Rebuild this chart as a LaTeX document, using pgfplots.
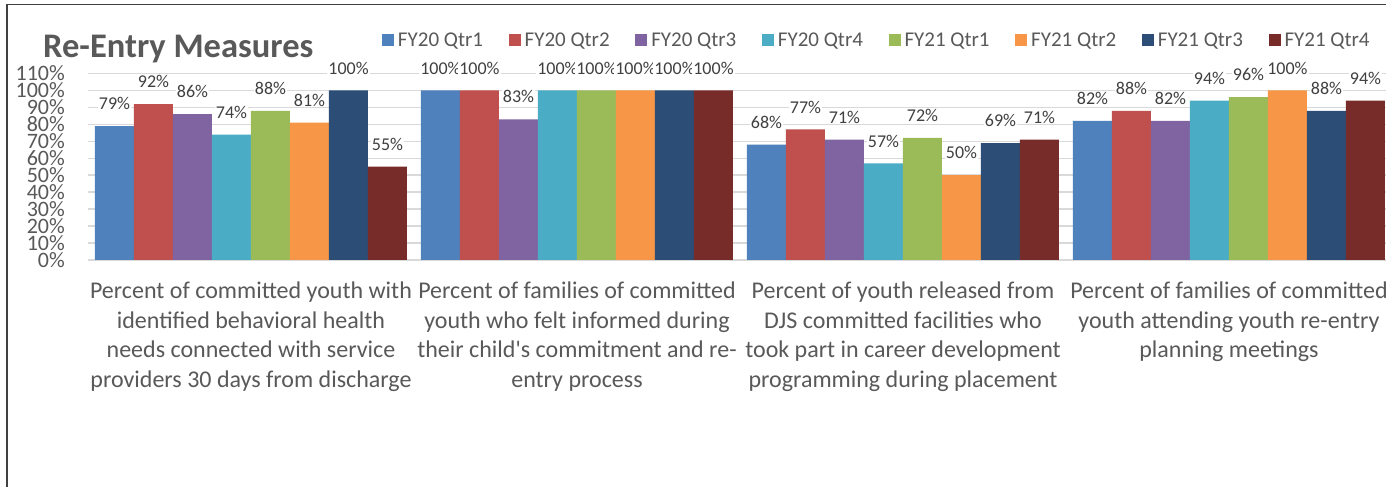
\documentclass[border=0pt]{standalone}
\usepackage{fontspec}
\setmainfont{Carlito}
\usepackage{pgfplots}
\pgfplotsset{compat=1.18}
\definecolor{c1}{HTML}{4F81BD}
\definecolor{c2}{HTML}{C0504D}
\definecolor{c3}{HTML}{8064A2}
\definecolor{c4}{HTML}{4BACC6}
\definecolor{c5}{HTML}{9BBB59}
\definecolor{c6}{HTML}{F79646}
\definecolor{c7}{HTML}{2C4D75}
\definecolor{c8}{HTML}{772C2A}
\definecolor{txtgray}{HTML}{595959}
\definecolor{lblgray}{HTML}{404040}
\definecolor{gridgray}{HTML}{D9D9D9}
\begin{document}
\begin{tikzpicture}
\useasboundingbox (0,0) rectangle (1386pt,487pt);
\clip (0,0) rectangle (1386pt,487pt);
\fill[white] (0,0) rectangle (1386pt,487pt);
\draw[line width=1.5pt, color=lblgray] (7pt,0) -- (7pt,482.3pt) -- (1390pt,482.3pt);
\node[anchor=base west, inner sep=0pt, text=txtgray, font=\fontsize{34.5}{40}\selectfont\bfseries] at (43pt,429.7pt) {Re-Entry Measures};
\begin{axis}[
  at={(88pt,227pt)}, anchor=south west,
  scale only axis, width=1304pt, height=186.5pt,
  xmin=-0.5, xmax=3.5, ymin=0, ymax=110,
  ybar=0pt, bar width=39pt,
  axis line style={draw=none},
  major tick length=0pt,
  ymajorgrids, grid style={gridgray, line width=1.5pt},
  ytick={0,10,...,110},
  /pgf/number format/assume math mode=true,
  yticklabel={\pgfmathprintnumber{\tick}\%},
  yticklabel style={anchor=east, inner sep=0pt, xshift=-23pt, text=txtgray, font=\fontsize{22}{22}\selectfont},
  xtick={0,1,2,3},
  xticklabels={
    {Percent of committed youth with\\identified behavioral health\\needs connected with service\\providers 30 days from discharge},
    {Percent of families of committed\\youth who felt informed during\\their child\textquotesingle s commitment and re-\\entry process},
    {Percent of youth released from\\DJS committed facilities who\\took part in career development\\programming during placement},
    {Percent of families of committed\\youth attending youth re-entry\\planning meetings}},
  xticklabel style={anchor=north, inner sep=0pt, yshift=-22pt, align=center, text=txtgray, font=\fontsize{24}{29.5}\selectfont},
  nodes near coords={\pgfmathprintnumber{\pgfplotspointmeta}\%},
  every node near coord/.append style={font=\fontsize{18}{18}\selectfont, text=lblgray, fill=white, inner sep=1pt, anchor=south, yshift=15pt},
  legend columns=8,
  legend image code/.code={\fill[#1] (0pt,-6pt) rectangle (12pt,6pt);},
  legend style={at={(0.22546,1.1796)}, anchor=west, draw=none, fill=none, inner sep=0pt, outer sep=0pt,
    font=\fontsize{21}{21}\selectfont, text=txtgray,
    nodes={inner sep=0pt},
    /tikz/every odd column/.append style={column sep=4pt},
    /tikz/every even column/.append style={column sep=25.6pt}},
]
\addplot[fill=c1, draw=none] coordinates {(0,79) (1,100) (2,68) (3,82)};
\addplot[fill=c2, draw=none] coordinates {(0,92) (1,100) (2,77) (3,88)};
\addplot[fill=c3, draw=none] coordinates {(0,86) (1,83) (2,71) (3,82)};
\addplot[fill=c4, draw=none] coordinates {(0,74) (1,100) (2,57) (3,94)};
\addplot[fill=c5, draw=none] coordinates {(0,88) (1,100) (2,72) (3,96)};
\addplot[fill=c6, draw=none] coordinates {(0,81) (1,100) (2,50) (3,100)};
\addplot[fill=c7, draw=none] coordinates {(0,100) (1,100) (2,69) (3,88)};
\addplot[fill=c8, draw=none] coordinates {(0,55) (1,100) (2,71) (3,94)};
\legend{FY20 Qtr1, FY20 Qtr2, FY20 Qtr3, FY20 Qtr4, FY21 Qtr1, FY21 Qtr2, FY21 Qtr3, FY21 Qtr4}
\end{axis}
\end{tikzpicture}
\end{document}
